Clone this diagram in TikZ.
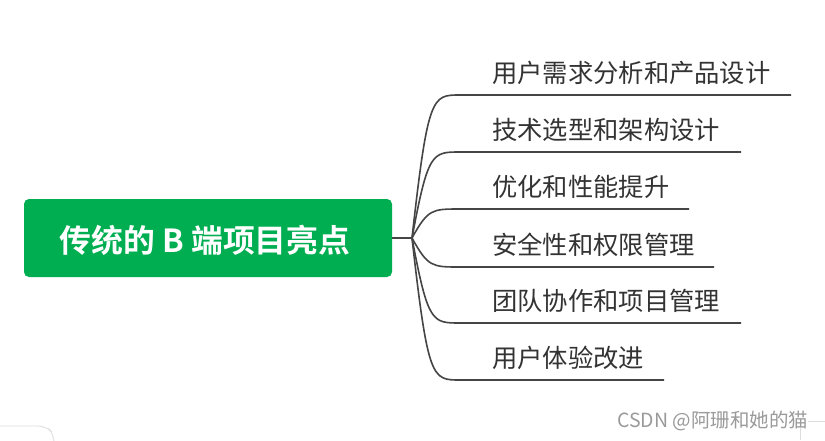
\documentclass[tikz,border=0pt]{standalone}
\usepackage{fontspec}
\setmainfont{Noto Sans CJK SC}
\newfontfamily\cjk{Noto Sans CJK SC}
\newfontfamily\cjkbold{Noto Sans CJK SC Bold}
\definecolor{rootgreen}{HTML}{00AE52}
\definecolor{branchgrey}{HTML}{454545}
\definecolor{textgrey}{HTML}{333333}
\definecolor{markgrey}{HTML}{9A9A9A}
\definecolor{faintgrey}{HTML}{DDDDDD}
\tikzset{
  rootbox/.style={fill=rootgreen, rounded corners=5pt, minimum width=368pt, minimum height=78pt, inner sep=0pt},
  branchline/.style={draw=branchgrey, line width=1.6pt},
  leaftext/.style={anchor=base west, inner sep=0pt, text=textgrey, font=\cjk\fontsize{25.3}{27}\selectfont},
}
\begin{document}
\begin{tikzpicture}[x=1pt,y=-1pt]
\useasboundingbox (0,0) rectangle (825,440);
\fill[white] (0,0) rectangle (825,440);
% root
\node[rootbox] (root) at (208,238) {};
\node[inner sep=0pt, text=white, font=\cjkbold\fontsize{31.8}{34}\selectfont] (roottext) at (205,240) {传统的 B 端项目亮点};
\coordinate (hub) at (412,238);
\draw[branchline] (root.east) -- (hub);
% leaves
\foreach \i/\y/\xe/\t in {1/95/791/用户需求分析和产品设计, 2/152/741/技术选型和架构设计, 3/209/689/优化和性能提升, 4/267/714/安全性和权限管理, 5/323/741/团队协作和项目管理, 6/380/664/用户体验改进}{
  \coordinate (s\i) at (460,\y);
  \coordinate (e\i) at (\xe,\y);
  \draw[branchline] (hub) .. controls (428,\y) and (432,\y) .. (s\i) -- (e\i);
  \node[leaftext] (leaf\i) at (492,\y-12.5) {\t};
}
% watermark
\node[anchor=base west, inner sep=0pt, text=markgrey, font=\cjk\fontsize{19.5}{21}\selectfont] (mark) at (617,427) {CSDN @阿珊和她的猫};
\coordinate (m1) at (808,421);
\coordinate (m2) at (825,421);
\draw[faintgrey, line width=0.8pt] (m1) -- (m2);
\coordinate (m3) at (800,428);
\coordinate (m4) at (800,440);
\draw[faintgrey, line width=0.8pt] (m3) -- (m4);
\coordinate (c1) at (0,426);
\coordinate (c2) at (54,440);
\draw[faintgrey, line width=0.8pt, rounded corners=8pt] (c1) -- (46,426) -- (54,434) -- (c2);
\end{tikzpicture}
\end{document}
